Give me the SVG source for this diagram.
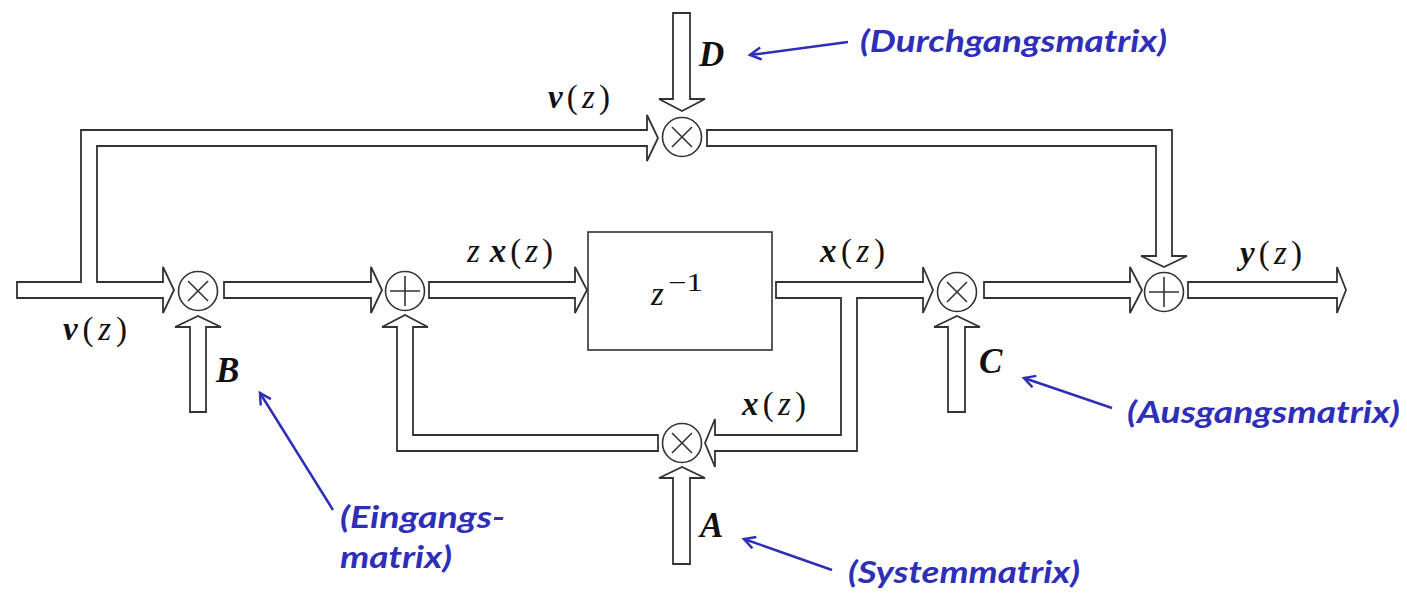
<svg xmlns="http://www.w3.org/2000/svg" width="1407" height="593" viewBox="0 0 1407 593">
<defs>
<style>
.f{fill:#fff;stroke:#333;stroke-width:1.8;stroke-linejoin:miter}
.c{fill:#fff;stroke:#333;stroke-width:1.6}
.s{stroke:#333;stroke-width:1.6;fill:none}
.m{font-family:"Liberation Serif","DejaVu Serif",serif;font-size:33px;fill:#111}
.b{font-weight:bold;font-style:italic}
.i{font-style:italic}
.n{font-style:normal;font-weight:normal}
.lbl{font-family:Lato,"Open Sans",sans-serif;font-weight:bold;font-style:italic;font-size:31px;fill:#2e2eb8}
.ba{stroke:#2e2eb8;stroke-width:2.5;fill:none}
</style>
<marker id="ah" markerWidth="16" markerHeight="16" refX="12" refY="7" orient="auto" markerUnits="userSpaceOnUse">
<path d="M1,1 L12,7 L1,13" fill="none" stroke="#2e2eb8" stroke-width="2.5"/>
</marker>
</defs>

<g id="connectors">
<path class="f" d="M17,282 L81,282 L81,130 L647,130 L647,115 L658,138 L647,161 L647,146 L97,146 L97,282 L163,282 L163,267 L174,290 L163,313 L163,298 L17,298 Z"/>
<path class="f" d="M707,130 L1172,130 L1172,256 L1187,256 L1164,267 L1141,256 L1156,256 L1156,146 L707,146 Z"/>
<path class="f" d="M673,13 L690,13 L690,99 L705,99 L682,111 L659,99 L673,99 Z"/>
<path class="f" d="M190,412 L206,412 L206,327 L221,327 L198,316 L175,327 L190,327 Z"/>
<path class="f" d="M224,282 L371,282 L371,267 L382,290 L371,313 L371,298 L224,298 Z"/>
<path class="f" d="M429,282 L575,282 L575,267 L587,290 L575,313 L575,298 L429,298 Z"/>
<path class="f" d="M776,282 L923,282 L923,267 L933,290 L923,313 L923,298 L857,298 L857,451 L715,451 L715,467 L705,443 L715,419 L715,435 L841,435 L841,298 L776,298 Z"/>
<path class="f" d="M658,435 L413,435 L413,327 L428,327 L405,315 L382,327 L397,327 L397,451 L658,451 Z"/>
<path class="f" d="M948,412 L965,412 L965,327 L980,327 L957,316 L934,327 L948,327 Z"/>
<path class="f" d="M673,564 L690,564 L690,478 L705,478 L682,467 L659,478 L673,478 Z"/>
<path class="f" d="M984,282 L1130,282 L1130,267 L1142,290 L1130,313 L1130,298 L984,298 Z"/>
<path class="f" d="M1188,282 L1337,282 L1337,267 L1346,290 L1337,313 L1337,298 L1188,298 Z"/>
</g>

<g id="mul1"><circle class="c" cx="198" cy="291" r="19.5"/><path class="s" d="M188,281 L208,301 M208,281 L188,301"/></g>
<g id="add1"><circle class="c" cx="405" cy="291" r="19.5"/><path class="s" d="M390,291 L420,291 M405,276 L405,306"/></g>
<g id="delay"><rect class="c" x="588" y="232" width="184" height="118"/>
<text class="m" x="651" y="305"><tspan class="i">z</tspan></text>
<text class="m" x="668" y="291" style="font-size:25px" textLength="35" lengthAdjust="spacingAndGlyphs">−1</text></g>
<g id="mulD"><circle class="c" cx="682" cy="137" r="19.5"/><path class="s" d="M672,127 L692,147 M692,127 L672,147"/></g>
<g id="mulA"><circle class="c" cx="682" cy="443" r="19.5"/><path class="s" d="M672,433 L692,453 M692,433 L672,453"/></g>
<g id="mulC"><circle class="c" cx="957" cy="292" r="19.5"/><path class="s" d="M947,282 L967,302 M967,282 L947,302"/></g>
<g id="add2"><circle class="c" cx="1164" cy="292" r="19.5"/><path class="s" d="M1149,292 L1179,292 M1164,277 L1164,307"/></g>

<g id="math-labels">
<text class="m" x="63" y="340" textLength="64" lengthAdjust="spacing"><tspan class="b">v</tspan><tspan class="n">(</tspan><tspan class="i">z</tspan><tspan class="n">)</tspan></text>
<text class="m" x="548" y="108" textLength="62" lengthAdjust="spacing"><tspan class="b">v</tspan><tspan class="n">(</tspan><tspan class="i">z</tspan><tspan class="n">)</tspan></text>
<text class="m b" x="699" y="66" style="font-size:35px">D</text>
<text class="m" x="467" y="262" textLength="86" lengthAdjust="spacing"><tspan class="i">z</tspan><tspan class="b" dx="6">x</tspan><tspan class="n">(</tspan><tspan class="i">z</tspan><tspan class="n">)</tspan></text>
<text class="m" x="820" y="262" textLength="65" lengthAdjust="spacing"><tspan class="b">x</tspan><tspan class="n">(</tspan><tspan class="i">z</tspan><tspan class="n">)</tspan></text>
<text class="m" x="742" y="415" textLength="64" lengthAdjust="spacing"><tspan class="b">x</tspan><tspan class="n">(</tspan><tspan class="i">z</tspan><tspan class="n">)</tspan></text>
<text class="m" x="1240" y="264" textLength="62" lengthAdjust="spacing"><tspan class="b">y</tspan><tspan class="n">(</tspan><tspan class="i">z</tspan><tspan class="n">)</tspan></text>
<text class="m b" x="216" y="382" style="font-size:35px">B</text>
<text class="m b" x="979" y="373" style="font-size:35px">C</text>
<text class="m b" x="700" y="537" style="font-size:35px">A</text>
</g>

<g id="annotations">
<line class="ba" x1="848" y1="42" x2="750" y2="55" marker-end="url(#ah)"/>
<text class="lbl" x="860" y="52" textLength="307" lengthAdjust="spacingAndGlyphs">(Durchgangsmatrix)</text>
<line class="ba" x1="1112" y1="408" x2="1024" y2="378" marker-end="url(#ah)"/>
<text class="lbl" x="1127" y="423" textLength="273" lengthAdjust="spacingAndGlyphs">(Ausgangsmatrix)</text>
<line class="ba" x1="832" y1="570" x2="744" y2="539" marker-end="url(#ah)"/>
<text class="lbl" x="848" y="583" textLength="232" lengthAdjust="spacingAndGlyphs">(Systemmatrix)</text>
<line class="ba" x1="333" y1="510" x2="260" y2="393" marker-end="url(#ah)"/>
<text class="lbl" x="340" y="528" textLength="165" lengthAdjust="spacingAndGlyphs">(Eingangs-</text>
<text class="lbl" x="340" y="568" textLength="112" lengthAdjust="spacingAndGlyphs">matrix)</text>
</g>
</svg>
